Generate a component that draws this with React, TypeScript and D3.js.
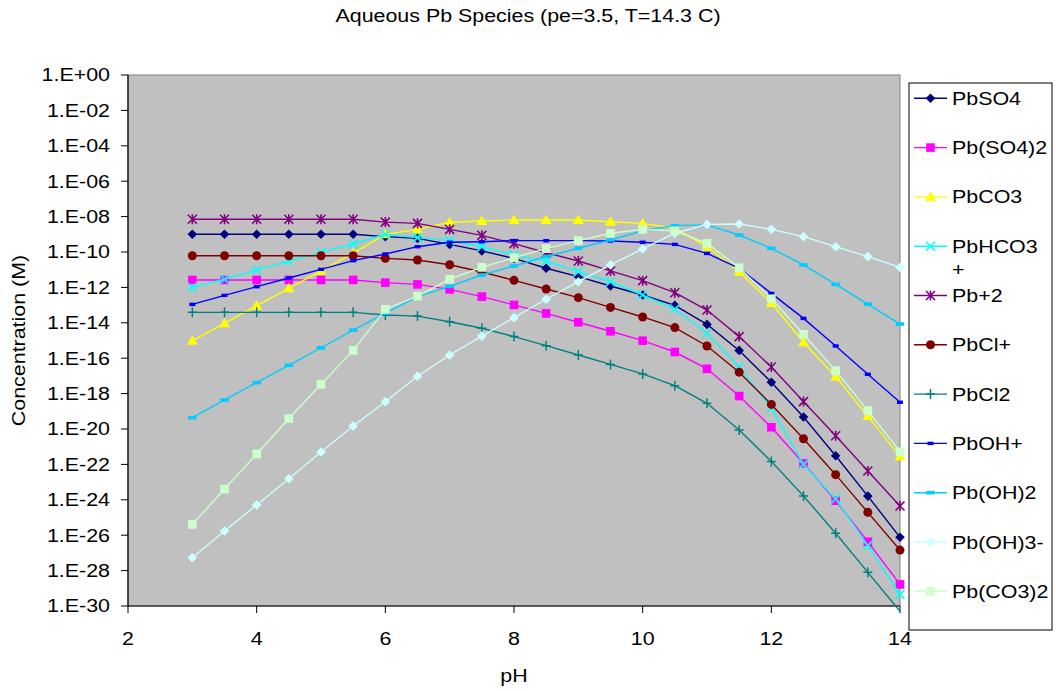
import React from "react";
import * as d3 from "d3";

const pH = [3, 3.5, 4, 4.5, 5, 5.5, 6, 6.5, 7, 7.5, 8, 8.5, 9, 9.5, 10, 10.5, 11, 11.5, 12, 12.5, 13, 13.5, 14];

// log10 of concentration (M)
const PbSO4 = [-9.0, -9.0, -9.0, -9.0, -9.0, -9.0, -9.13, -9.23, -9.57, -9.94, -10.36, -10.92, -11.39, -11.92, -12.43, -13.01, -14.09, -15.56, -17.36, -19.32, -21.51, -23.79, -26.12];
const PbSO4_2 = [-11.58, -11.58, -11.58, -11.58, -11.58, -11.58, -11.73, -11.83, -12.11, -12.52, -12.99, -13.47, -13.97, -14.48, -15.01, -15.65, -16.6, -18.14, -19.9, -21.94, -24.05, -26.37, -28.78];
const PbCO3 = [-15.01, -14.03, -13.03, -12.05, -11.07, -10.06, -9.0, -8.72, -8.32, -8.25, -8.19, -8.19, -8.19, -8.29, -8.38, -8.66, -9.7, -11.11, -12.88, -15.1, -17.04, -19.27, -21.56];
const PbHCO3 = [-12.0, -11.54, -11.02, -10.51, -10.02, -9.55, -9.0, -9.19, -9.36, -9.7, -10.17, -10.51, -11.11, -11.68, -12.43, -13.22, -14.59, -16.48, -18.83, -22.0, -23.95, -26.59, -29.34];
const Pb2 = [-8.15, -8.15, -8.15, -8.15, -8.15, -8.15, -8.31, -8.38, -8.72, -9.06, -9.53, -10.04, -10.51, -11.07, -11.62, -12.3, -13.28, -14.78, -16.5, -18.45, -20.38, -22.37, -24.35];
const PbCl = [-10.21, -10.21, -10.21, -10.21, -10.21, -10.21, -10.36, -10.45, -10.72, -11.13, -11.6, -12.09, -12.58, -13.13, -13.67, -14.27, -15.31, -16.79, -18.61, -20.55, -22.58, -24.71, -26.84];
const PbCl2 = [-13.41, -13.41, -13.41, -13.41, -13.41, -13.41, -13.56, -13.62, -13.94, -14.31, -14.78, -15.29, -15.82, -16.35, -16.89, -17.55, -18.55, -20.06, -21.83, -23.79, -25.89, -28.1, -30.3];
const PbOH = [-12.96, -12.45, -11.96, -11.47, -10.98, -10.49, -10.11, -9.7, -9.45, -9.42, -9.36, -9.36, -9.36, -9.38, -9.45, -9.57, -10.08, -10.92, -12.34, -13.75, -15.31, -16.91, -18.49];
const PbOH2 = [-19.36, -18.36, -17.38, -16.4, -15.41, -14.41, -13.45, -12.52, -11.94, -11.3, -10.79, -10.26, -9.79, -9.32, -8.8, -8.51, -8.47, -9.04, -9.79, -10.73, -11.83, -12.94, -14.07];
const PbOH3 = [-27.27, -25.76, -24.29, -22.81, -21.3, -19.83, -18.46, -17.02, -15.82, -14.75, -13.71, -12.67, -11.68, -10.73, -9.83, -8.94, -8.44, -8.42, -8.72, -9.13, -9.7, -10.26, -10.87];
const PbCO3_2 = [-25.39, -23.39, -21.41, -19.41, -17.48, -15.56, -13.24, -12.49, -11.54, -10.87, -10.32, -9.81, -9.36, -8.94, -8.72, -8.8, -9.51, -10.89, -12.64, -14.65, -16.7, -18.96, -21.28];

const seriesNames = ["PbSO4", "Pb(SO4)2", "PbCO3", "PbHCO3+", "Pb+2", "PbCl+", "PbCl2", "PbOH+", "Pb(OH)2", "Pb(OH)3-", "Pb(CO3)2"];
const seriesValues = [PbSO4, PbSO4_2, PbCO3, PbHCO3, Pb2, PbCl, PbCl2, PbOH, PbOH2, PbOH3, PbCO3_2];
const seriesColors = ["#000080", "#FF00FF", "#FFFF00", "#00FFFF", "#800080", "#800000", "#008080", "#0000FF", "#00CCFF", "#CCFFFF", "#CCFFCC"];
const seriesMarkers = ["diamond", "square", "triangle", "x", "star", "circle", "plus", "dashSmall", "dash", "diamond", "square"];

const xTicks = [2, 4, 6, 8, 10, 12, 14];
const yTickExps = d3.range(0, -31, -2);

const W = 1056, H = 691;
const plot = { left: 128, right: 900, top: 75, bottom: 606 };
const FONT = "'Liberation Sans', Arial, sans-serif";
const SX = 1.19;

function Marker({ type, x, y, color, big }: { type: string; x: number; y: number; color: string; big?: boolean }) {
  const s = big ? 1 : 1;
  switch (type) {
    case "diamond":
      return <path d={`M${x},${y - 4.8 * s}L${x + 4.8 * s},${y}L${x},${y + 4.8 * s}L${x - 4.8 * s},${y}Z`} fill={color} />;
    case "square":
      return <rect x={x - 4.3} y={y - 4.3} width={8.6} height={8.6} fill={color} />;
    case "triangle":
      return <path d={`M${x},${y - 5.5}L${x + 5.5},${y + 4}L${x - 5.5},${y + 4}Z`} fill={color} />;
    case "circle":
      return <circle cx={x} cy={y} r={4.5} fill={color} />;
    case "x":
      return <path d={`M${x - 4.5},${y - 4.5}L${x + 4.5},${y + 4.5}M${x - 4.5},${y + 4.5}L${x + 4.5},${y - 4.5}`} stroke={color} strokeWidth={1.6} fill="none" />;
    case "star":
      return <path d={`M${x - 4.5},${y - 4.5}L${x + 4.5},${y + 4.5}M${x - 4.5},${y + 4.5}L${x + 4.5},${y - 4.5}M${x},${y - 5}L${x},${y + 5}`} stroke={color} strokeWidth={1.6} fill="none" />;
    case "plus":
      return <path d={`M${x - 4.5},${y}L${x + 4.5},${y}M${x},${y - 5}L${x},${y + 5}`} stroke={color} strokeWidth={1.5} fill="none" />;
    case "dashSmall":
      return <rect x={x - 3} y={y - 1.7} width={6} height={3.4} fill={color} />;
    case "dash":
      return <rect x={x - 4.2} y={y - 1.8} width={8.4} height={3.6} fill={color} />;
    default:
      return null;
  }
}

export default function App() {
  const x = d3.scaleLinear().domain([2, 14]).range([plot.left, plot.right]);
  const y = d3.scaleLog().domain([1e-30, 1]).range([plot.bottom, plot.top]);
  const line = d3
    .line<[number, number]>()
    .x((d) => x(d[0]))
    .y((d) => y(Math.pow(10, d[1])));

  const legendX = 909, legendY = 83, legendW = 143, legendH = 547;
  const legendRow0 = 98.3, legendStep = 49.3;

  return (
    <svg width={W} height={H} style={{ position: "absolute", left: 0, top: 0, background: "#fff" }} fontFamily={FONT}>
      <rect x={0} y={0} width={W} height={H} fill="#fff" />
      {/* title */}
      <text transform={`translate(528,22) scale(${SX},1)`} textAnchor="middle" fontSize={18} fill="#000">
        Aqueous Pb Species (pe=3.5, T=14.3 C)
      </text>
      {/* plot area */}
      <rect x={plot.left} y={plot.top} width={plot.right - plot.left} height={plot.bottom - plot.top} fill="#C0C0C0" stroke="#808080" strokeWidth={1} />
      {/* axes */}
      <line x1={plot.left} x2={plot.left} y1={plot.top} y2={plot.bottom} stroke="#000" strokeWidth={1.2} />
      <line x1={plot.left} x2={plot.right} y1={plot.bottom} y2={plot.bottom} stroke="#000" strokeWidth={1.2} />
      {yTickExps.map((e) => {
        const yy = y(Math.pow(10, e));
        const lab = e === 0 ? "1.E+00" : `1.E-${String(-e).padStart(2, "0")}`;
        return (
          <g key={e}>
            <line x1={plot.left - 7} x2={plot.left} y1={yy} y2={yy} stroke="#000" strokeWidth={1} />
            <text transform={`translate(110,${yy + 6.3}) scale(${SX},1)`} textAnchor="end" fontSize={18} fill="#000">
              {lab}
            </text>
          </g>
        );
      })}
      {xTicks.map((t) => (
        <g key={t}>
          <line x1={x(t)} x2={x(t)} y1={plot.bottom} y2={plot.bottom + 7} stroke="#000" strokeWidth={1} />
          <text transform={`translate(${x(t)},645) scale(${SX},1)`} textAnchor="middle" fontSize={18} fill="#000">
            {t}
          </text>
        </g>
      ))}
      {/* axis titles */}
      <text transform={`translate(514,682) scale(${SX},1)`} textAnchor="middle" fontSize={18} fill="#000">
        pH
      </text>
      <text transform={`translate(25,340.5) rotate(-90) scale(${SX},1)`} textAnchor="middle" fontSize={18} fill="#000">
        Concentration (M)
      </text>
      {/* series */}
      {seriesValues.map((vals, i) => {
        const pts = pH.map((p, j) => [p, vals[j]] as [number, number]);
        return (
          <g key={seriesNames[i]}>
            <path d={line(pts) || ""} fill="none" stroke={seriesColors[i]} strokeWidth={1.4} />
            {pts
              .filter((d) => d[1] >= -30)
              .map((d, j) => (
                <Marker key={j} type={seriesMarkers[i]} x={x(d[0])} y={y(Math.pow(10, d[1]))} color={seriesColors[i]} />
              ))}
          </g>
        );
      })}
      {/* legend */}
      <rect x={legendX} y={legendY} width={legendW} height={legendH} fill="#fff" stroke="#000" strokeWidth={1} />
      {seriesNames.map((n, i) => {
        const ly = legendRow0 + i * legendStep;
        const wrapped = n === "PbHCO3+";
        return (
          <g key={n}>
            <line x1={914} x2={947} y1={ly} y2={ly} stroke={seriesColors[i]} strokeWidth={1.4} />
            <Marker type={seriesMarkers[i]} x={930.5} y={ly} color={seriesColors[i]} />
            {wrapped ? (
              <>
                <text transform={`translate(952,${ly + 6.5}) scale(${SX},1)`} fontSize={18} fill="#000">PbHCO3</text>
                <text transform={`translate(952,${ly + 6.5 + 23.5}) scale(${SX},1)`} fontSize={18} fill="#000">+</text>
              </>
            ) : (
              <text transform={`translate(952,${ly + 6.5}) scale(${SX},1)`} fontSize={18} fill="#000">{n}</text>
            )}
          </g>
        );
      })}
    </svg>
  );
}
